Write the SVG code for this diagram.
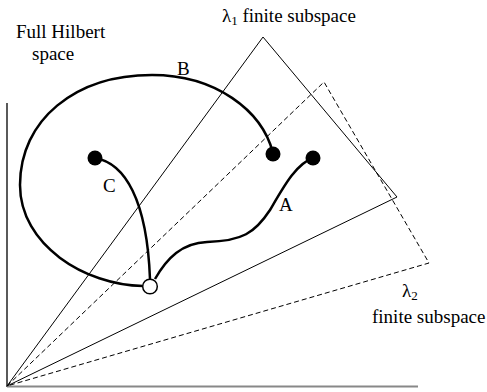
<svg xmlns="http://www.w3.org/2000/svg" width="487" height="392" viewBox="0 0 487 392">
<style>
.t{font-family:"Liberation Serif","Times New Roman",serif;font-size:19px;fill:#000}
.ts{font-family:"Liberation Serif","Times New Roman",serif;font-size:13px;fill:#000}
.thin{fill:none;stroke:#000;stroke-width:1}
.dash{fill:none;stroke:#000;stroke-width:1;stroke-dasharray:5,3}
.curve{fill:none;stroke:#000;stroke-width:2.5}
.dot{fill:#000}
</style>
<rect width="487" height="392" fill="#fff"/>
<g id="axes">
<line x1="7" y1="103" x2="7" y2="387" stroke="#000" stroke-width="1.3"/>
<line x1="7" y1="386.5" x2="418" y2="386.5" stroke="#888" stroke-width="2.2"/>
</g>
<g id="lambda1-subspace">
<path class="thin" d="M7,386 L263,37 L397,197 Z"/>
</g>
<g id="lambda2-subspace">
<path class="dash" d="M7,386 L324,82 L429,263 Z"/>
</g>
<g id="connectors">
<path id="B" class="curve" d="M273,153 C262,110 215,75 152,75 C75,75 20,120 20,185 C20,245 85,285 143,286"/>
<path id="C" class="curve" d="M95,158 C125,163 147,200 150,279"/>
<path id="A" class="curve" d="M155,279 C167,258 182,243 207,242 C242,241 255,233 270,210 C284,186 296,164 313,158"/>
</g>
<g id="node-c-start"><circle class="dot" cx="95" cy="158" r="7.5"/></g>
<g id="node-b-end"><circle class="dot" cx="273" cy="154" r="7.5"/></g>
<g id="node-a-end"><circle class="dot" cx="313" cy="158" r="7.5"/></g>
<g id="node-start"><circle cx="150" cy="286.5" r="7.3" fill="#fff" stroke="#000" stroke-width="1.5"/></g>
<g id="labels">
<text class="t" x="16" y="38">Full Hilbert</text>
<text class="t" x="32" y="60">space</text>
<text class="t" x="222" y="22">λ<tspan class="ts" dy="3">1</tspan><tspan dy="-3"> finite subspace</tspan></text>
<text class="t" x="402" y="297">λ<tspan class="ts" dy="3">2</tspan></text>
<text class="t" x="372" y="323">finite subspace</text>
<text class="t" x="177" y="75">B</text>
<text class="t" x="103" y="192">C</text>
<text class="t" x="279" y="211">A</text>
</g>
</svg>
